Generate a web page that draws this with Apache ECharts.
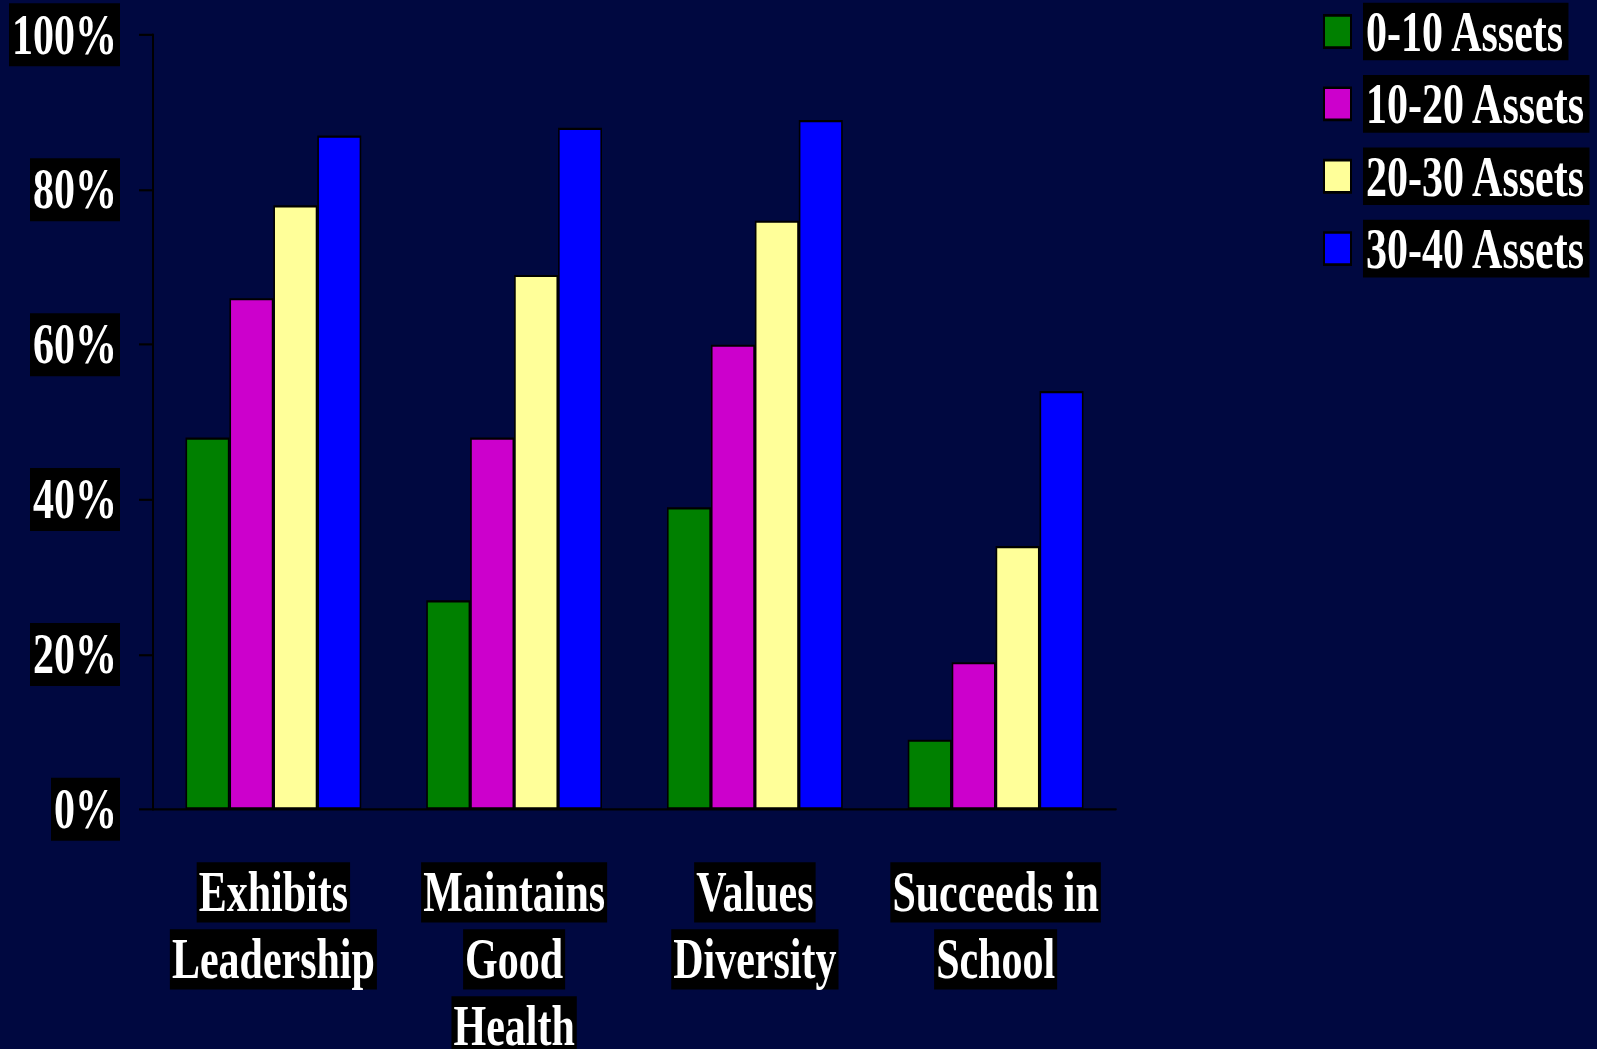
<!DOCTYPE html>
<html>
<head>
<meta charset="utf-8">
<script src="https://cdn.jsdelivr.net/npm/echarts@6/dist/echarts.min.js"></script>
<style>
    html, body { margin: 0; padding: 0; background: #000840; }
    #wrap { width: 1597px; height: 1049px; position: relative; }
    /* the original slide text is tall and narrow, so the chart is stretched vertically */
    #chart { position: absolute; left: 0; top: 0; width: 1597px; height: 783px; transform: scaleY(1.34); transform-origin: 0 0; }
</style>
</head>
<body>
<div id="wrap"><div id="chart"></div></div>
<script>
// categories and series values (percent)
const categories = ['Exhibits\nLeadership', 'Maintains\nGood\nHealth', 'Values\nDiversity', 'Succeeds in\nSchool'];
const seriesNames = ['0-10 Assets', '10-20 Assets', '20-30 Assets', '30-40 Assets'];
const assets0to10 = [48, 27, 39, 9];
const assets10to20 = [66, 48, 60, 19];
const assets20to30 = [78, 69, 76, 34];
const assets30to40 = [87, 88, 89, 54];
const seriesColors = ['#008000', '#cc00cc', '#ffff99', '#0000ff'];

const FONT = "'Liberation Serif', 'Times New Roman', serif";

document.addEventListener('DOMContentLoaded', () => {
    const chart = echarts.init(document.getElementById('chart'), null, { renderer: 'svg' });
    const values = [assets0to10, assets10to20, assets20to30, assets30to40];

    const option = {
        backgroundColor: '#000840',
        animation: false,
        grid: {
            left: 153,
            right: 481,
            top: 26,
            bottom: 179,
            outerBoundsMode: 'none'
        },
        legend: {
            orient: 'vertical',
            left: 1323,
            top: 2,
            padding: 0,
            icon: 'rect',
            itemWidth: 27,
            itemHeight: 24,
            itemGap: 11,
            data: seriesNames,
            formatter: (name) => '{s|}{t|' + name + '}',
            textStyle: {
                rich: {
                    s: { width: 7 },
                    t: {
                        color: '#ffffff',
                        fontFamily: FONT,
                        fontWeight: 'bold',
                        fontSize: 42,
                        lineHeight: 43,
                        backgroundColor: '#000000',
                        padding: [1, 3, 0, 3]
                    }
                }
            }
        },
        xAxis: {
            type: 'category',
            data: categories,
            axisLine: { lineStyle: { color: '#000000', width: 1.6 } },
            axisTick: { length: 13, lineStyle: { color: '#000000', width: 2 } },
            axisLabel: {
                margin: 37,
                interval: 0,
                formatter: (val) => val.split('\n').map(l => '{b|' + l + '}').join('\n'),
                rich: {
                    b: {
                        color: '#ffffff',
                        fontFamily: FONT,
                        fontWeight: 'bold',
                        fontSize: 42,
                        lineHeight: 50,
                        height: 45,
                        backgroundColor: '#000000',
                        padding: [0, 2]
                    }
                }
            }
        },
        yAxis: {
            type: 'value',
            min: 0,
            max: 100,
            interval: 20,
            splitLine: { show: false },
            axisLine: { show: true, lineStyle: { color: '#000000', width: 2 } },
            axisTick: { show: true, length: 14, lineStyle: { color: '#000000', width: 1.6 } },
            axisLabel: {
                margin: 33,
                formatter: '{value}%',
                color: '#ffffff',
                fontFamily: FONT,
                fontWeight: 'bold',
                fontSize: 42,
                lineHeight: 44,
                backgroundColor: '#000000',
                padding: [3, 3, 0, 3]
            }
        },
        series: seriesNames.map((name, i) => ({
            name: name,
            type: 'bar',
            data: values[i],
            barGap: '0%',
            barCategoryGap: '27%',
            itemStyle: {
                color: seriesColors[i],
                borderColor: '#000000',
                borderWidth: 1.6
            }
        }))
    };

    chart.setOption(option);
    window.addEventListener('resize', () => chart.resize());
});
</script>
</body>
</html>
